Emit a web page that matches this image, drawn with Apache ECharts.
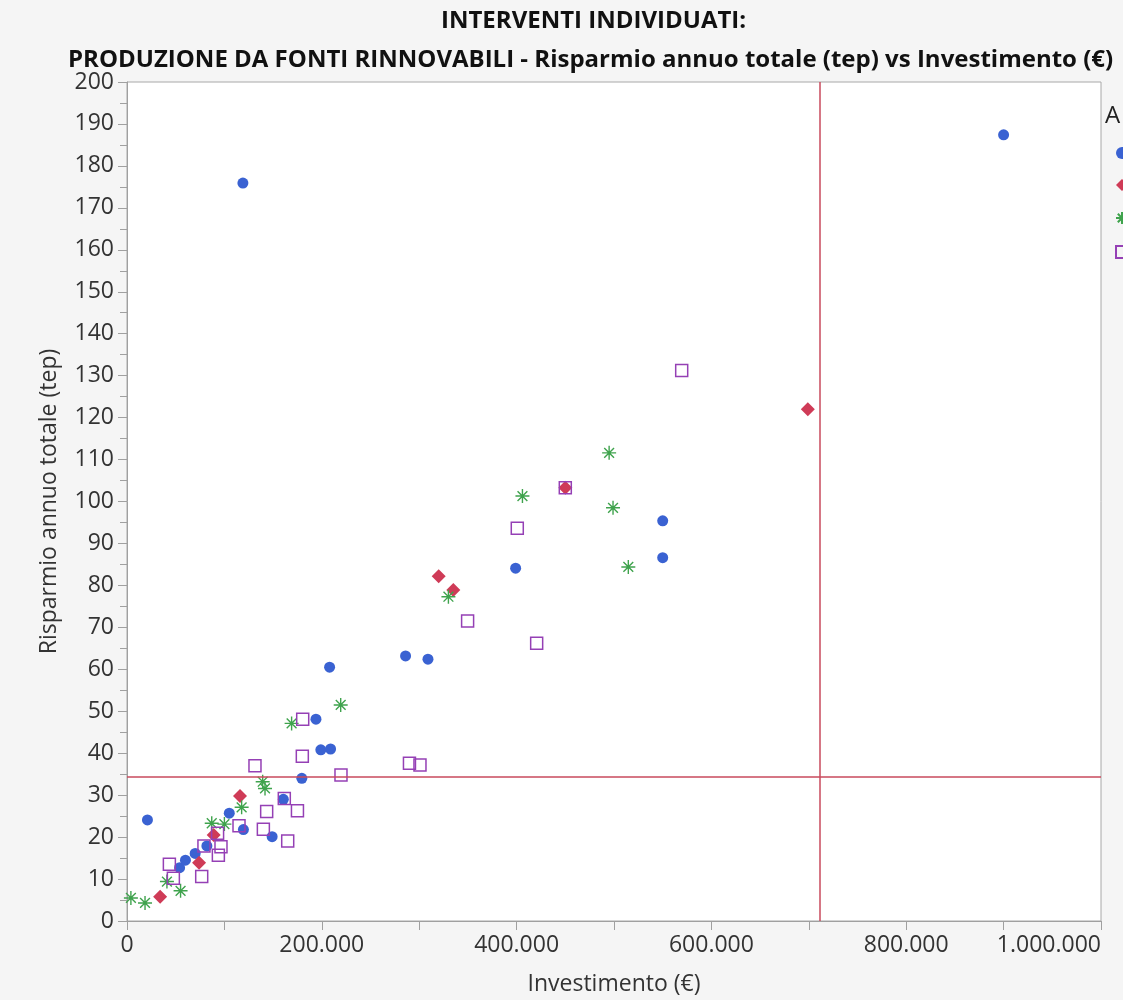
<!DOCTYPE html>
<html>
<head>
<meta charset="utf-8">
<script src="https://cdn.jsdelivr.net/npm/echarts@6/dist/echarts.min.js"></script>
<style>html,body{margin:0;padding:0;background:#f5f5f5;overflow:hidden;}#c{width:1123px;height:1000px;}</style>
</head>
<body>
<div id="c"></div>
<script>
// Values: [Investimento (€), Risparmio annuo totale (tep)]
var serieCerchi = [
  [21000, 24.1], [54000, 12.7], [60000, 14.5], [70000, 16.1], [82000, 17.9],
  [105000, 25.7], [119500, 21.8], [119000, 175.9], [149000, 20.1], [160500, 29.0],
  [179500, 34.0], [194000, 48.1], [199000, 40.8], [209000, 41.0], [208000, 60.5],
  [286000, 63.2], [309000, 62.4], [399000, 84.1], [550000, 95.4], [550000, 86.6],
  [900000, 187.4]
];
var serieRombi = [
  [34000, 5.8], [74000, 13.9], [89000, 20.5], [116000, 29.8], [320000, 82.2],
  [335000, 78.9], [450000, 103.3], [699000, 122.0]
];
var serieAsterischi = [
  [4000, 5.5], [18500, 4.3], [41000, 9.4], [55000, 7.2], [87000, 23.3],
  [100000, 23.1], [117700, 27.1], [139300, 33.2], [141700, 31.6], [169000, 47.1],
  [219400, 51.5], [330000, 77.3], [406000, 101.3], [495000, 111.6], [499000, 98.5],
  [514700, 84.4]
];
var serieQuadrati = [
  [43500, 13.5], [47600, 10.2], [76700, 10.6], [79000, 17.9], [93000, 20.9],
  [93800, 15.7], [96500, 17.7], [115000, 22.7], [131400, 37.0], [140000, 21.9],
  [143400, 26.1], [161500, 29.2], [165000, 19.1], [175000, 26.3], [180000, 39.3],
  [180400, 48.1], [219700, 34.8], [290000, 37.6], [300800, 37.2], [349700, 71.5],
  [400700, 93.6], [420600, 66.2], [450000, 103.3], [569500, 131.2]
];
var nomiSerie = ['Gruppo 1', 'Gruppo 2', 'Gruppo 3', 'Gruppo 4'];
var rifInvestimento = 711500;
var rifRisparmio = 34.4;
var titolo1 = 'INTERVENTI INDIVIDUATI:';
var titolo2 = 'PRODUZIONE DA FONTI RINNOVABILI - Risparmio annuo totale (tep) vs Investimento (€)';

var FONT = 'Open Sans';
var asterisk = 'path://M10 0L10 20M0 10L20 10M3 3L17 17M17 3L3 17';

var chart = echarts.init(document.getElementById('c'), null, {renderer: 'canvas'});
var option = {
  backgroundColor: '#f5f5f5',
  animation: false,
  textStyle: {fontFamily: FONT},
  title: [
    {text: titolo1, left: 436, top: 4, textStyle: {fontFamily: FONT, fontWeight: 'bold', fontSize: 24, color: '#111'}},
    {text: titolo2, left: 63, top: 43, textStyle: {fontFamily: FONT, fontWeight: 'bold', fontSize: 24, color: '#111'}}
  ],
  legend: {
    orient: 'vertical', left: 1110, top: 142, itemWidth: 12, itemHeight: 12, itemGap: 20,
    textStyle: {fontSize: 8},
    formatter: function () { return ''; },
    data: nomiSerie
  },
  graphic: [{type: 'text', left: 1105, top: 104, style: {text: 'A', font: '24px "Open Sans"', fill: '#222'}}],
  grid: {left: 127, right: 22, top: 82, bottom: 79, outerBoundsMode: 'none', containLabel: false,
    show: true, backgroundColor: '#ffffff', borderColor: '#a8a8a8', borderWidth: 1},
  xAxis: {
    type: 'value', min: 0, max: 1000000, interval: 200000,
    name: 'Investimento (€)', nameLocation: 'middle', nameGap: 52,
    nameTextStyle: {fontSize: 23, color: '#333', fontFamily: FONT},
    axisLine: {show: true, lineStyle: {color: '#a0a0a0'}},
    axisTick: {show: true, length: 9, lineStyle: {color: '#a0a0a0'}},
    minorTick: {show: true, splitNumber: 2, length: 9, lineStyle: {color: '#a0a0a0'}},
    splitLine: {show: false},
    axisLabel: {fontSize: 23, color: '#333', margin: 13, fontFamily: FONT, alignMaxLabel: 'right',
      formatter: function (v) { return v.toString().replace(/\B(?=(\d{3})+(?!\d))/g, '.'); }}
  },
  yAxis: {
    type: 'value', min: 0, max: 200, interval: 10,
    name: 'Risparmio annuo totale (tep)', nameLocation: 'middle', nameGap: 66, nameRotate: 90,
    nameTextStyle: {fontSize: 23, color: '#333', fontFamily: FONT},
    axisLine: {show: true, lineStyle: {color: '#a0a0a0'}},
    axisTick: {show: true, length: 9, lineStyle: {color: '#a0a0a0'}},
    minorTick: {show: true, splitNumber: 2, length: 7, lineStyle: {color: '#a0a0a0'}},
    splitLine: {show: false},
    axisLabel: {fontSize: 23, color: '#333', margin: 13, fontFamily: FONT}
  },
  series: [
    {name: nomiSerie[0], type: 'scatter', data: serieCerchi, symbol: 'circle', symbolSize: 11,
      itemStyle: {color: '#3a62d2', opacity: 1},
      markLine: {silent: true, symbol: 'none', label: {show: false},
        lineStyle: {color: '#c84a5c', width: 1.5, type: 'solid'},
        data: [{xAxis: rifInvestimento}, {yAxis: rifRisparmio}]}},
    {name: nomiSerie[1], type: 'scatter', data: serieRombi, symbol: 'diamond', symbolSize: 14,
      itemStyle: {color: '#cf3b57', opacity: 1}},
    {name: nomiSerie[2], type: 'scatter', data: serieAsterischi, symbol: asterisk, symbolSize: 14,
      itemStyle: {color: 'rgba(0,0,0,0)', borderColor: '#3fa34d', borderWidth: 1.4, opacity: 1}},
    {name: nomiSerie[3], type: 'scatter', data: serieQuadrati, symbol: 'rect', symbolSize: 12,
      itemStyle: {color: 'rgba(0,0,0,0)', borderColor: '#9540b5', borderWidth: 1.5, opacity: 1}}
  ]
};
chart.setOption(option);
</script>
</body>
</html>
